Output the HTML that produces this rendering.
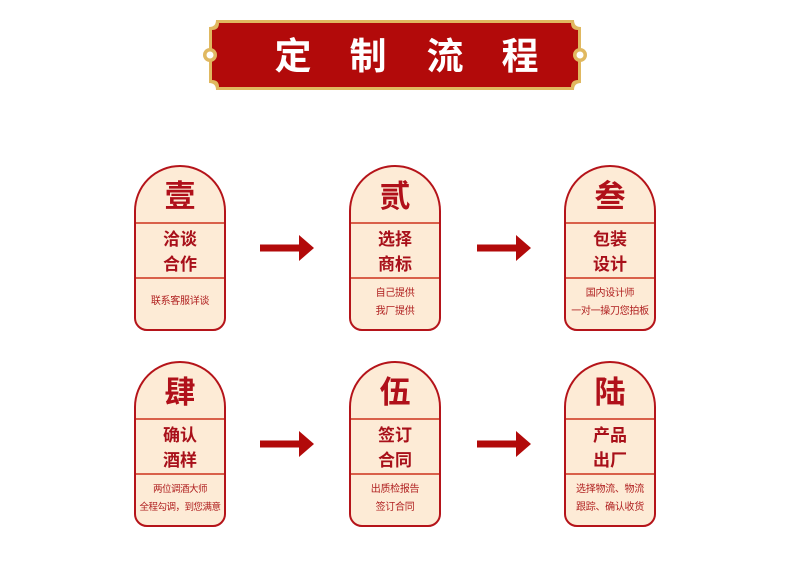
<!DOCTYPE html>
<html><head><meta charset="utf-8"><style>
body{margin:0;width:790px;height:573px;background:#fff;position:relative;overflow:hidden;font-family:"Liberation Sans","Noto Sans CJK SC",sans-serif}
.card{position:absolute;width:88px;height:162px;border:2px solid #b5141a;background:#fdebd6;border-radius:46px 46px 13px 13px;box-sizing:content-box}
.d{position:absolute;left:0;right:0;height:1.5px;background:#d9604a}
.big{position:absolute;left:0;right:0;top:12px;text-align:center;font-size:31px;font-weight:bold;color:#b0101a;line-height:36px}
.mid{position:absolute;left:0;right:0;top:60px;text-align:center;font-size:17px;font-weight:bold;color:#a8101a;line-height:25px}
.sm{position:absolute;left:-4px;right:-4px;text-align:center;font-size:10px;color:#b02020;line-height:18px;white-space:nowrap;letter-spacing:-0.3px}
.arr{position:absolute;width:56px;height:30px}
</style></head><body>
<svg style="position:absolute;left:0;top:0" width="790" height="120">
<path d="M216 20 H574 Q574 27 581 27 V83 Q574 83 574 90 H216 Q216 83 209 83 V27 Q216 27 216 20Z" fill="#e0b860"/>
<path d="M219 23 H571 Q571 30 578 30 V80 Q571 80 571 87 H219 Q219 80 212 80 V30 Q219 30 219 23Z" fill="#b20a0a"/>
<circle cx="210" cy="55" r="7" fill="#e0b860"/><circle cx="210" cy="55" r="3.5" fill="#fff"/>
<circle cx="580" cy="55" r="7" fill="#e0b860"/><circle cx="580" cy="55" r="3.5" fill="#fff"/>
<g font-family="Noto Sans CJK SC,sans-serif" font-weight="bold" font-size="37" fill="#fff" text-anchor="middle">
<text x="293" y="69">定</text><text x="368" y="69">制</text><text x="445" y="69">流</text><text x="520" y="69">程</text>
</g>
</svg>

<div class="card" style="left:134px;top:165px"><div class="d" style="top:55px"></div><div class="d" style="top:110px"></div>
<div class="big">壹</div><div class="mid">洽谈<br>合作</div><div class="sm" style="top:126px">联系客服详谈</div></div>
<div class="card" style="left:349px;top:165px"><div class="d" style="top:55px"></div><div class="d" style="top:110px"></div>
<div class="big">贰</div><div class="mid">选择<br>商标</div><div class="sm" style="top:118px">自己提供<br>我厂提供</div></div>
<div class="card" style="left:564px;top:165px"><div class="d" style="top:55px"></div><div class="d" style="top:110px"></div>
<div class="big">叁</div><div class="mid">包装<br>设计</div><div class="sm" style="top:118px">国内设计师<br>一对一操刀您拍板</div></div>

<div class="card" style="left:134px;top:361px"><div class="d" style="top:55px"></div><div class="d" style="top:110px"></div>
<div class="big">肆</div><div class="mid">确认<br>酒样</div><div class="sm" style="top:118px;font-size:9.5px;letter-spacing:-0.5px">两位调酒大师<br>全程勾调，到您满意</div></div>
<div class="card" style="left:349px;top:361px"><div class="d" style="top:55px"></div><div class="d" style="top:110px"></div>
<div class="big">伍</div><div class="mid">签订<br>合同</div><div class="sm" style="top:118px">出质检报告<br>签订合同</div></div>
<div class="card" style="left:564px;top:361px"><div class="d" style="top:55px"></div><div class="d" style="top:110px"></div>
<div class="big">陆</div><div class="mid">产品<br>出厂</div><div class="sm" style="top:118px">选择物流、物流<br>跟踪、确认收货</div></div>

<svg class="arr" style="left:259px;top:233px" viewBox="0 0 56 30"><path d="M1 11.5 H40 V2 L55 15 L40 28 V18.5 H1Z" fill="#b20a0a"/></svg>
<svg class="arr" style="left:476px;top:233px" viewBox="0 0 56 30"><path d="M1 11.5 H40 V2 L55 15 L40 28 V18.5 H1Z" fill="#b20a0a"/></svg>
<svg class="arr" style="left:259px;top:429px" viewBox="0 0 56 30"><path d="M1 11.5 H40 V2 L55 15 L40 28 V18.5 H1Z" fill="#b20a0a"/></svg>
<svg class="arr" style="left:476px;top:429px" viewBox="0 0 56 30"><path d="M1 11.5 H40 V2 L55 15 L40 28 V18.5 H1Z" fill="#b20a0a"/></svg>
</body></html>
